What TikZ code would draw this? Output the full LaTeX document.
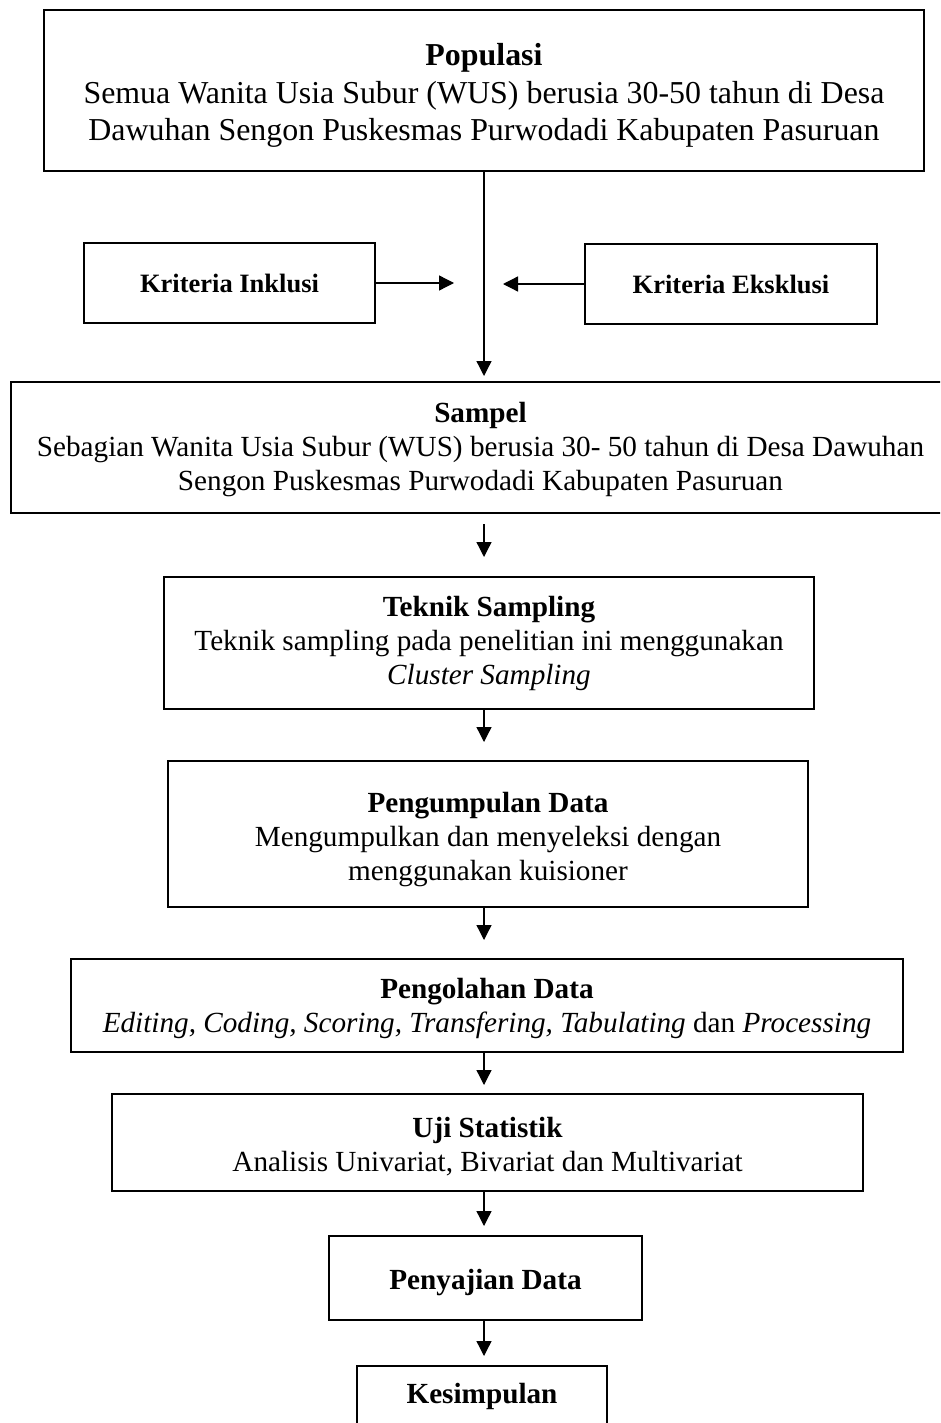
\documentclass[tikz,border=0pt]{standalone}
\usepackage{fontspec}
\setmainfont{Liberation Serif}
\usetikzlibrary{arrows.meta}
\newcommand\mainsz{\fontsize{29.2}{34}\selectfont}
\newcommand\popsz{\fontsize{31.9}{37.5}\selectfont}
\newcommand\kritsz{\fontsize{26.5}{30}\selectfont}
\newcommand\topstrut[1]{\rule{0pt}{#1}}
\tikzset{
  box/.style={draw, line width=2pt, inner sep=0pt, align=center, font=\mainsz},
  arr/.style={-{Triangle[length=15pt,width=15pt]}, line width=1.3pt},
}
\begin{document}
\begin{tikzpicture}[x=1pt,y=-1pt]
\fill[white] (0,0) rectangle (940,1423);
\useasboundingbox (0,0) rectangle (940,1423);
\clip (0,0) rectangle (940,1423);

\coordinate (ax) at (484,0);
\coordinate (inkTip) at (454,283);
\coordinate (eksTip) at (503,284);

\node[box, font=\popsz, minimum width=880pt, minimum height=161pt] (pop) at (484,90.5)
  {\topstrut{32pt}\textbf{Populasi}\\Semua Wanita Usia Subur (WUS) berusia 30-50 tahun di Desa\\Dawuhan Sengon Puskesmas Purwodadi Kabupaten Pasuruan};

\node[box, font=\kritsz, minimum width=291pt, minimum height=80pt] (ink) at (229.5,283)
  {\textbf{Kriteria Inklusi}};
\node[box, font=\kritsz, minimum width=292pt, minimum height=80pt] (eks) at (731,284)
  {\textbf{Kriteria Eksklusi}};

\node[box, minimum width=939pt, minimum height=131pt] (sam) at (480.5,447.5)
  {\topstrut{25pt}\textbf{Sampel}\\Sebagian Wanita Usia Subur (WUS) berusia 30- 50 tahun di Desa Dawuhan\\Sengon Puskesmas Purwodadi Kabupaten Pasuruan};

\node[box, minimum width=650pt, minimum height=132pt] (tek) at (489,643)
  {\textbf{Teknik Sampling}\\Teknik sampling pada penelitian ini menggunakan\\\textit{Cluster Sampling}};

\node[box, minimum width=640pt, minimum height=146pt] (peng) at (488,834)
  {\topstrut{32pt}\textbf{Pengumpulan Data}\\Mengumpulkan dan menyeleksi dengan\\menggunakan kuisioner};

\node[box, minimum width=832pt, minimum height=93pt] (olah) at (487,1005.5)
  {\topstrut{27pt}\textbf{Pengolahan Data}\\\textit{Editing, Coding, Scoring, Transfering, Tabulating} dan \textit{Processing}};

\node[box, minimum width=751pt, minimum height=97pt] (uji) at (487.5,1142.5)
  {\topstrut{28pt}\textbf{Uji Statistik}\\Analisis Univariat, Bivariat dan Multivariat};

\node[box, minimum width=313pt, minimum height=84pt] (saji) at (485.5,1278)
  {\topstrut{30pt}\textbf{Penyajian Data}};

\node[box, anchor=north, minimum width=250pt, inner ysep=0pt, text height=37.7pt, text depth=45pt] (kes) at (482,1365)
  {\textbf{Kesimpulan}};

\draw[arr, shorten >=5pt] (pop.south -| ax) -- (sam.north -| ax);
\draw[arr] (ink.east) -- (inkTip);
\draw[arr] (eks.west) -- (eksTip);
\draw[arr, shorten <=10pt, shorten >=19pt] (sam.south -| ax) -- (tek.north -| ax);
\draw[arr, shorten >=18pt] (tek.south -| ax) -- (peng.north -| ax);
\draw[arr, shorten >=18pt] (peng.south -| ax) -- (olah.north -| ax);
\draw[arr, shorten >=8pt] (olah.south -| ax) -- (uji.north -| ax);
\draw[arr, shorten >=9pt] (uji.south -| ax) -- (saji.north -| ax);
\draw[arr, shorten >=9pt] (saji.south -| ax) -- (kes.north -| ax);
\end{tikzpicture}
\end{document}
